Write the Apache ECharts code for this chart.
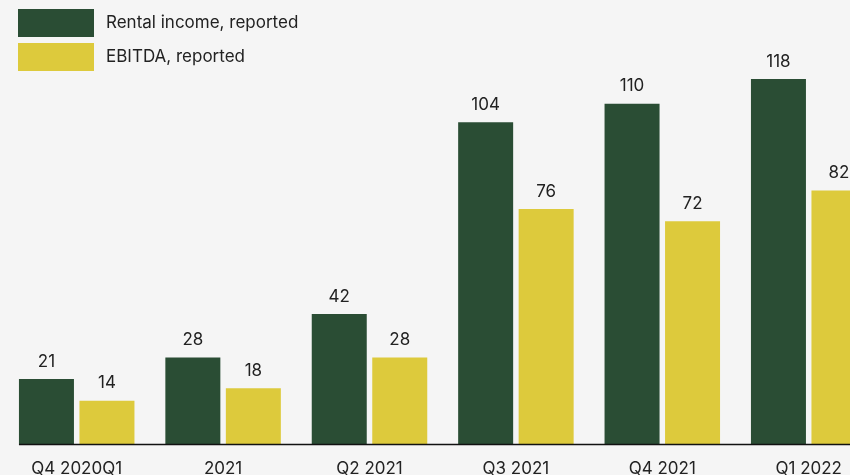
<!DOCTYPE html>
<html>
<head>
<meta charset="utf-8">
<script src="https://cdn.jsdelivr.net/npm/echarts@6/dist/echarts.min.js"></script>
<style>
  html, body { margin: 0; padding: 0; background: #f5f5f5; }
  #chart { width: 850px; height: 475px; }
</style>
</head>
<body>
<div id="chart"></div>
<script>
// Quarterly figures, reported
const categories = ['Q4 2020Q1', '2021', 'Q2 2021', 'Q3 2021', 'Q4 2021', 'Q1 2022'];
const rentalIncome = [21, 28, 42, 104, 110, 118];
const ebitda = [14, 18, 28, 76, 72, 82];

const GREEN = '#2a4d34';
const YELLOW = '#ddca3c';
const TEXT = '#222222';
const FONT = 'Inter, "Noto Sans", sans-serif';
const BAR_W = 55;
const BAR_GAP = 5.5;

const chart = echarts.init(document.getElementById('chart'));

const labelStyle = {
  show: true,
  position: 'top',
  distance: 9,
  color: TEXT,
  fontSize: 17,
  fontFamily: FONT
};

chart.setOption({
  backgroundColor: '#f5f5f5',
  animation: false,
  legend: {
    orient: 'vertical',
    left: 18,
    top: 9,
    padding: 0,
    itemWidth: 76,
    itemHeight: 28,
    itemGap: 6,
    icon: 'rect',
    textStyle: { color: TEXT, fontSize: 17, fontFamily: FONT, padding: [0, 0, 0, 7] },
    data: ['Rental income, reported', 'EBITDA, reported']
  },
  // the plot runs past the right edge of the page, so the last bar is cut off
  grid: {
    left: 3.5, width: 878.4, top: 11, bottom: 31,
    containLabel: false,
    outerBoundsMode: 'none'
  },
  xAxis: {
    type: 'category',
    data: categories,
    axisLine: { show: false },
    axisTick: { show: false },
    axisLabel: { color: TEXT, fontSize: 17, fontFamily: FONT, margin: 16, interval: 0 }
  },
  yAxis: {
    type: 'value',
    min: 0,
    max: 140,
    show: false,
    splitLine: { show: false }
  },
  series: [
    {
      name: 'Rental income, reported',
      type: 'bar',
      data: rentalIncome,
      barWidth: BAR_W,
      barGap: (BAR_GAP / BAR_W * 100) + '%',
      itemStyle: { color: GREEN, borderWidth: 0 },
      label: labelStyle
    },
    {
      name: 'EBITDA, reported',
      type: 'bar',
      data: ebitda,
      barWidth: BAR_W,
      itemStyle: { color: YELLOW, borderWidth: 0 },
      label: labelStyle
    }
  ]
});

// Baseline starts at the left edge of the first bar group
const cx = chart.convertToPixel({ xAxisIndex: 0 }, categories[0]);
const y0 = Math.round(chart.convertToPixel({ yAxisIndex: 0 }, 0)) + 0.5;
const xStart = cx - (BAR_W + BAR_GAP / 2);
chart.setOption({
  graphic: [{
    type: 'line',
    z: 10,
    shape: { x1: xStart, y1: y0, x2: chart.getWidth(), y2: y0 },
    style: { stroke: '#111111', lineWidth: 1.5 }
  }]
});
</script>
</body>
</html>
